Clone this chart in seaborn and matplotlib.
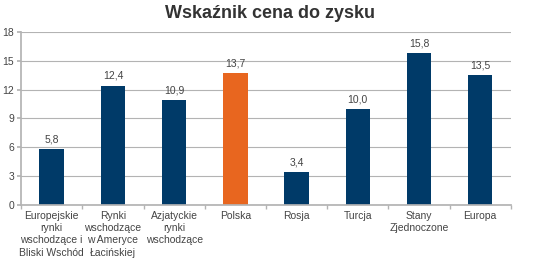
import matplotlib
matplotlib.use("Agg")
import matplotlib.pyplot as plt
import seaborn as sns
import pandas as pd
import numpy as np

categories = ["Europejskie\nrynki\nwschodzące i\nBliski Wschód",
              "Rynki\nwschodzące\nw Ameryce\nŁacińskiej",
              "Azjatyckie\nrynki\nwschodzące",
              "Polska", "Rosja", "Turcja", "Stany\nZjednoczone", "Europa"]
values = [5.8, 12.4, 10.9, 13.7, 3.4, 10.0, 15.8, 13.5]
value_labels = ["5,8", "12,4", "10,9", "13,7", "3,4", "10,0", "15,8", "13,5"]
yticks = [0, 3, 6, 9, 12, 15, 18]

navy = "#003A68"
orange = "#E8661F"
colors = [orange if c == "Polska" else navy for c in categories]

sns.set_theme(style="white")
plt.rcParams['font.family'] = ['Liberation Sans', 'DejaVu Sans']

fig = plt.figure(figsize=(5.4, 2.61), dpi=100)
ax = fig.add_axes([0.039, 0.2146, 0.907, 0.663])

df = pd.DataFrame({"cat": categories, "val": values})
sns.barplot(data=df, x="cat", y="val", hue="cat", palette=colors, legend=False,
            width=0.4, ax=ax, saturation=1, edgecolor="none")

ax.set_ylim(0, 18)
ax.set_xlim(-0.5, len(categories) - 0.5)
ax.set_yticks(yticks)
ax.set_yticklabels([str(t) for t in yticks])
ax.yaxis.grid(True, color="#B3B3B3", linewidth=0.8)
ax.set_axisbelow(True)
for s in ["top", "right"]:
    ax.spines[s].set_visible(False)
ax.spines["left"].set_color("#B3B3B3")
ax.spines["bottom"].set_color("#B3B3B3")
ax.set_xlabel("")
ax.set_ylabel("")
ax.tick_params(axis="y", length=3, color="#B3B3B3", labelsize=7.5, labelcolor="#444444", pad=2, left=True)
ax.tick_params(axis="x", length=0, labelsize=7.5, labelcolor="#444444", pad=4)
ax.set_xticks(range(len(categories)))
ax.set_xticklabels(categories, linespacing=1.3)
ax.set_xticks(np.arange(-0.5, len(categories)), minor=True)
ax.tick_params(axis="x", which="minor", length=3, color="#B3B3B3", bottom=True)

for i, (v, lab) in enumerate(zip(values, value_labels)):
    ax.text(i, v + 0.5, lab, ha="center", va="bottom", fontsize=7.5, color="#444444")

fig.text(0.5, 0.948, "Wskaźnik cena do zysku", ha="center", va="center",
         fontsize=13, fontweight="bold", color="#333333")

fig.savefig("out.png", dpi=100)
